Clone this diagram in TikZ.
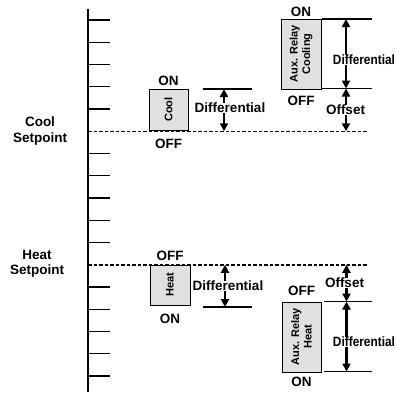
\documentclass[tikz,border=0pt]{standalone}
\usepackage{fontspec}
\setmainfont{Liberation Sans}
\usetikzlibrary{arrows.meta, positioning}

\begin{document}
\begin{tikzpicture}[x=1pt, y=-1pt,
  lbl/.style={font=\fontsize{13.5}{15.5}\selectfont\bfseries, inner sep=0pt, align=center},
  relay/.style={draw, line width=1pt, fill=black!12, rotate=90, inner sep=0pt, align=center, font=\fontsize{11}{12.5}\selectfont\bfseries},
  tick/.style={line width=1.2pt},
  setline/.style={dash pattern=on 3.5pt off 2pt, line width=1.5pt},
  limit/.style={line width=1.2pt},
  arr/.style={-{Triangle[width=8pt,length=8pt]}, line width=2.2pt}]
  \useasboundingbox (0,0) rectangle (396,394);

  % scale
  \draw[line width=2.6pt] (88,9) coordinate (axtop) -- (88,392) coordinate (axbot);
  \foreach \i in {0,...,4,6,7,8,9,10,12,13,14,15,16}
    \draw[tick] (88,20+22.25*\i) -- ++(22,0);

  \coordinate (coolset) at (88,131.25);
  \coordinate (heatset) at (88,264.75);
  \draw[setline] (coolset) -- ++(279,0);
  \draw[setline] (heatset) -- ++(280,0);
  \node[lbl] (coolsp) at (40,131) {Cool\\Setpoint};
  \node[lbl] (heatsp) at (37,264) {Heat\\Setpoint};

  % cooling
  \node[relay, minimum width=41pt, minimum height=39pt] (cool) at (168.5,109.5) {Cool};
  \node[lbl, above=2.5pt of cool.east] (coolon) {ON};
  \node[lbl, below=8pt of cool.west] (cooloff) {OFF};

  \coordinate (cdtop) at (224,89);
  \coordinate (cdbot) at (224,131.25);
  \draw[limit] ([xshift=-21pt]cdtop) -- ([xshift=28pt]cdtop);
  \node[lbl] (cdiff) at (230,108) {Differential};
  \draw[arr] (cdiff.north -| cdtop) -- (cdtop);
  \draw[arr] (cdiff.south -| cdbot) -- (cdbot);

  \node[relay, minimum width=70pt, minimum height=40pt] (auxcool) at (301,54) {Aux. Relay\\Cooling};
  \node[lbl, above=2pt of auxcool.east] (auxcoolon) {ON};
  \node[lbl, below=6pt of auxcool.west] (auxcooloff) {OFF};

  \coordinate (acdtop) at (346,19);
  \coordinate (acdbot) at (346,88.5);
  \draw[limit] ([xshift=-24pt]acdtop) -- ([xshift=26pt]acdtop);
  \draw[limit] ([xshift=-24pt]acdbot) -- ([xshift=26pt]acdbot);
  \node[lbl] (acdiff) at (364,60) {\scalebox{.88}[1]{Differential}};
  \draw[arr] (acdiff.north -| acdtop) -- (acdtop);
  \draw[arr] (acdiff.south -| acdbot) -- (acdbot);
  \node[lbl] (acoff) at (345.5,110) {Offset};
  \draw[arr] (acoff.north -| acdbot) -- (acdbot);
  \draw[arr] (acoff.south -| acdbot) -- (acdbot |- coolset);

  % heating
  \node[relay, minimum width=40pt, minimum height=40pt] (heat) at (170,285) {Heat};
  \node[lbl, above=4pt of heat.east] (heatoff) {OFF};
  \node[lbl, below=8pt of heat.west] (heaton) {ON};

  \coordinate (hdbot) at (225,307);
  \draw[limit] ([xshift=-22pt]hdbot) -- ([xshift=27pt]hdbot);
  \node[lbl] (hdiff) at (228,286) {Differential};
  \draw[arr] (hdiff.north -| hdbot) -- (hdbot |- heatset);
  \draw[arr] (hdiff.south -| hdbot) -- (hdbot);

  \node[relay, minimum width=70pt, minimum height=39pt] (auxheat) at (301.5,337) {Aux. Relay\\Heat};
  \node[lbl, above=6pt of auxheat.east] (auxheatoff) {OFF};
  \node[lbl, below=4.5pt of auxheat.west] (auxheaton) {ON};

  \coordinate (ahdtop) at (346.5,301.5);
  \coordinate (ahdbot) at (346.5,371.5);
  \draw[limit] ([xshift=-22.5pt]ahdtop) -- ([xshift=25.5pt]ahdtop);
  \draw[limit] ([xshift=-22.5pt]ahdbot) -- ([xshift=25.5pt]ahdbot);
  \node[lbl] (ahdiff) at (364,342) {\scalebox{.88}[1]{Differential}};
  \draw[arr] (ahdiff.north -| ahdtop) -- (ahdtop);
  \draw[arr] (ahdiff.south -| ahdbot) -- (ahdbot);
  \node[lbl] (ahoff) at (344.5,283) {Offset};
  \draw[arr] (ahoff.north -| ahdtop) -- (ahdtop |- heatset);
  \draw[arr] (ahoff.south -| ahdtop) -- (ahdtop);
\end{tikzpicture}
\end{document}
